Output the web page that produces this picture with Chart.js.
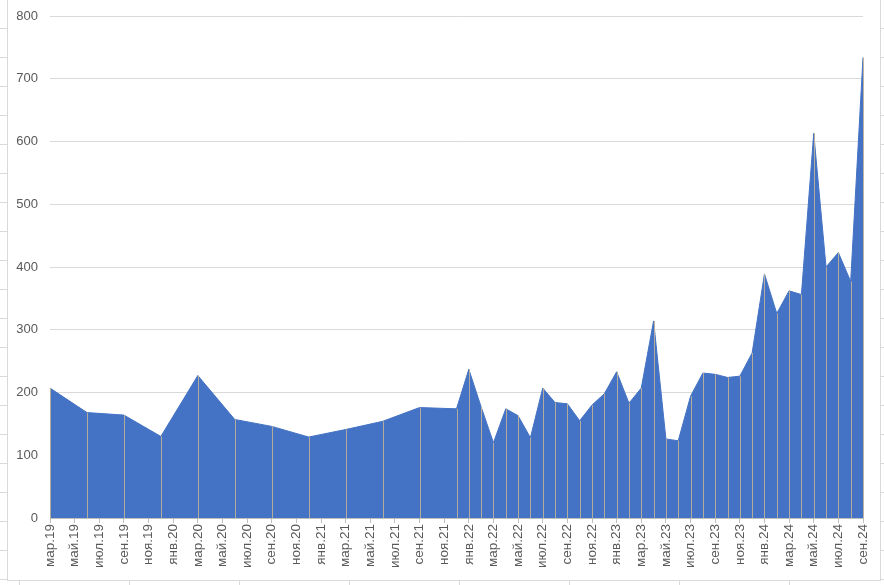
<!DOCTYPE html>
<html>
<head>
<meta charset="utf-8">
<script src="https://cdn.jsdelivr.net/npm/chart.js@4/dist/chart.umd.min.js"></script>
<style>
  html, body { margin: 0; padding: 0; background: #fff; }
  #wrap { position: relative; width: 884px; height: 585px; overflow: hidden; }
  #c { position: absolute; left: 0; top: 0; }
  .strip { position: absolute; }
  #leftStrip { left: 0; top: 0; width: 7px; height: 585px;
    background: repeating-linear-gradient(to bottom, transparent 0px, transparent 28px, #d9d9d9 28px, #d9d9d9 29px, transparent 29px, transparent 29px);
  }
  #rightStrip { left: 881px; top: 0; width: 3px; height: 585px;
    background: repeating-linear-gradient(to bottom, transparent 0px, transparent 28px, #d9d9d9 28px, #d9d9d9 29px);
  }
  #bottomStrip { left: 0; top: 581px; width: 884px; height: 4px;
    background: repeating-linear-gradient(to right, transparent 0px, transparent 19px, #d9d9d9 19px, #d9d9d9 20px, transparent 20px, transparent 110px);
  }
  #frame { position: absolute; left: 7px; top: -1px; width: 872px; height: 580px; border: 1px solid #d9d9d9; pointer-events: none; }
</style>
</head>
<body>
<div id="wrap">
  <div class="strip" id="leftStrip"></div>
  <div class="strip" id="rightStrip"></div>
  <div class="strip" id="bottomStrip"></div>
  <div id="frame"></div>
  <canvas id="c" width="884" height="585"></canvas>
</div>
<script>
// ---- data ----
const dates = [
  "2019-03","2019-06","2019-09","2019-12",
  "2020-03","2020-06","2020-09","2020-12",
  "2021-03","2021-06","2021-09","2021-12",
  "2022-01","2022-02","2022-03","2022-04","2022-05","2022-06",
  "2022-07","2022-08","2022-09","2022-10","2022-11","2022-12",
  "2023-01","2023-02","2023-03","2023-04","2023-05","2023-06",
  "2023-07","2023-08","2023-09","2023-10","2023-11","2023-12",
  "2024-01","2024-02","2024-03","2024-04","2024-05","2024-06",
  "2024-07","2024-08","2024-09"
];
const values = [
  207, 168, 164, 130,
  227, 157, 146, 129,
  141, 154, 176, 174,
  237, 177, 120, 174, 163, 128,
  207, 184, 182, 155, 180, 198,
  233, 183, 207, 314, 126, 123,
  194, 231, 229, 224, 226, 263,
  389, 326, 362, 356, 613, 400,
  423, 377, 734
];
const monthNames = ["янв","фев","мар","апр","май","июн","июл","авг","сен","окт","ноя","дек"];
const startYear = 2019, startMonth = 3;
const yTicksMin = 0, yTicksMax = 800, yTicksStep = 100;

function monthIndex(s) {
  const [y, m] = s.split("-").map(Number);
  return (y - startYear) * 12 + (m - startMonth);
}
function monthLabel(idx) {
  const total = (startMonth - 1) + idx;
  const y = startYear + Math.floor(total / 12);
  const m = total % 12;
  return monthNames[m] + "." + String(y % 100).padStart(2, "0");
}
const points = dates.map((d, i) => ({ x: monthIndex(d), y: values[i] }));
const xMax = monthIndex(dates[dates.length - 1]);

const dropLines = {
  id: "dropLines",
  afterDatasetsDraw(chart) {
    const { ctx, scales } = chart;
    const xs = scales.x, ys = scales.y;
    ctx.save();
    ctx.strokeStyle = "rgba(185,175,155,0.95)";
    ctx.lineWidth = 1;
    points.forEach(p => {
      const x = Math.round(xs.getPixelForValue(p.x)) + 0.5;
      ctx.beginPath();
      ctx.moveTo(x, ys.getPixelForValue(0));
      ctx.lineTo(x, ys.getPixelForValue(p.y));
      ctx.stroke();
    });
    ctx.restore();
  }
};

const font = { family: "'Liberation Sans', Arial, sans-serif", size: 13 };
const xFont = { family: "'Liberation Sans', Arial, sans-serif", size: 13.5 };
new Chart(document.getElementById("c"), {
  type: "line",
  data: {
    datasets: [{
      data: points,
      fill: "origin",
      backgroundColor: "#4472C4",
      borderColor: "#4472C4",
      borderWidth: 1,
      pointRadius: 0,
      tension: 0
    }]
  },
  options: {
    responsive: false,
    animation: false,
    events: [],
    layout: { padding: { left: 0, right: 21, top: 16, bottom: 0 } },
    plugins: { legend: { display: false }, tooltip: { enabled: false } },
    scales: {
      x: {
        type: "linear",
        min: 0,
        max: xMax,
        afterFit(s) { s.height = 67; s.paddingLeft = 0; s.paddingRight = 0; },
        ticks: {
          stepSize: 2,
          autoSkip: false,
          maxRotation: 90,
          minRotation: 90,
          padding: 1,
          color: "#595959",
          font: xFont,
          callback: v => monthLabel(v)
        },
        grid: { drawOnChartArea: false, drawTicks: true, tickLength: 5, color: "#bfbfbf" },
        border: { display: true, color: "#bfbfbf" }
      },
      y: {
        min: yTicksMin,
        max: yTicksMax,
        afterFit(s) { s.width = 50; s.paddingTop = 0; s.paddingBottom = 0; },
        ticks: { stepSize: yTicksStep, color: "#595959", font: font, padding: 12 },
        grid: { color: "#d9d9d9", drawTicks: false },
        border: { display: false }
      }
    }
  },
  plugins: [dropLines]
});
</script>
</body>
</html>
